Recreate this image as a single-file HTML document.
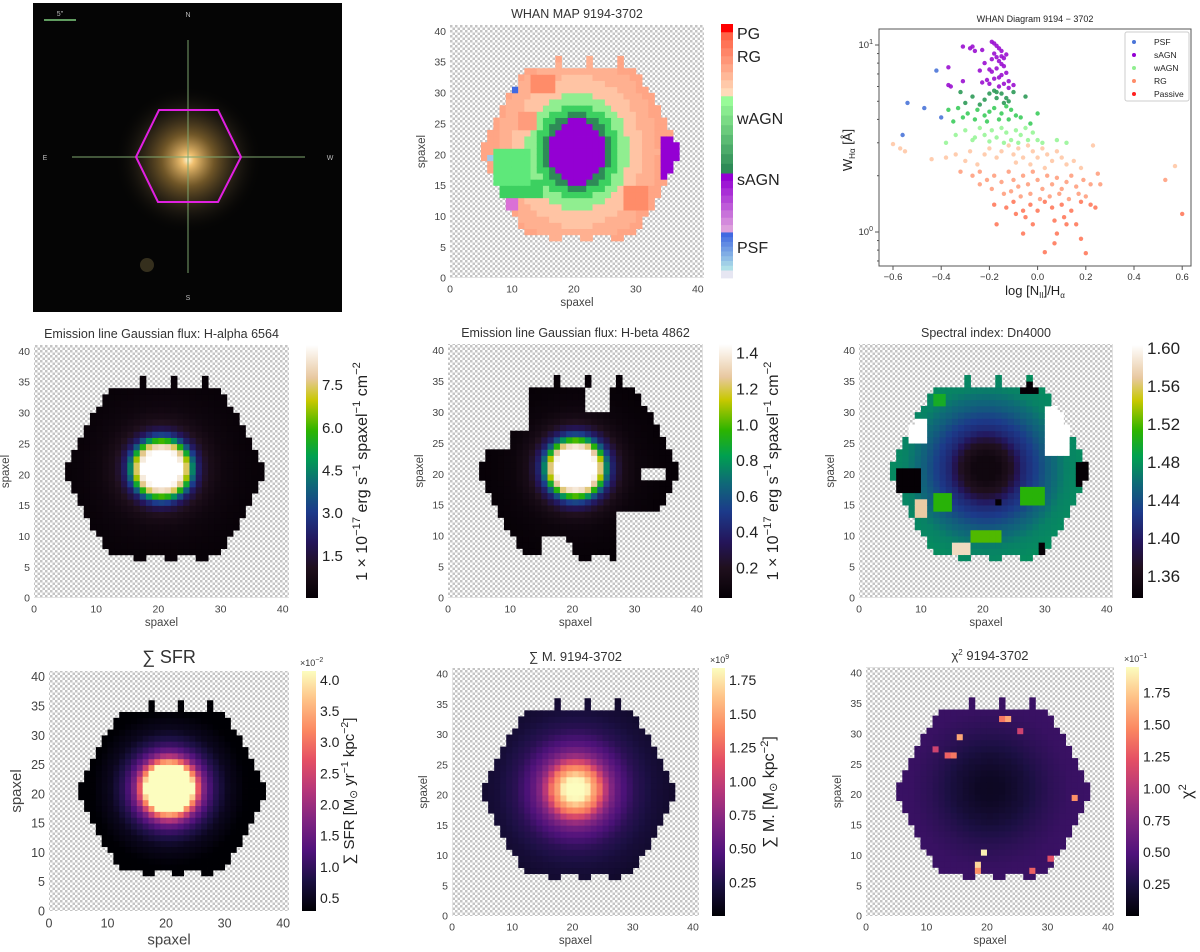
<!DOCTYPE html>
<html><head><meta charset="utf-8"><style>
html,body{margin:0;padding:0;background:#fff;}
svg{display:block;font-family:"Liberation Sans","DejaVu Sans",sans-serif;}
</style></head><body>
<svg id="fig" width="1200" height="952" viewBox="0 0 1200 952" xmlns="http://www.w3.org/2000/svg">
<defs>
<pattern id="chk" width="5" height="5" patternUnits="userSpaceOnUse"><rect width="5" height="5" fill="#ffffff"/><rect width="2.5" height="2.5" fill="#c4c4c4"/><rect x="2.5" y="2.5" width="2.5" height="2.5" fill="#c4c4c4"/></pattern>
<radialGradient id="glow" cx="0.5" cy="0.5" r="0.5"><stop offset="0" stop-color="#fff4d0"/><stop offset="0.08" stop-color="#f0c070"/><stop offset="0.35" stop-color="#8a6a30" stop-opacity="0.8"/><stop offset="0.7" stop-color="#3a3020" stop-opacity="0.4"/><stop offset="1" stop-color="#000" stop-opacity="0"/></radialGradient>
</defs>
<g id="photo">
<rect x="33" y="3" width="309" height="309" fill="#050505"/>
<circle cx="188" cy="160" r="75" fill="url(#glow)"/>
<circle cx="147" cy="265" r="7" fill="#4a4228" opacity="0.7"/>
<line x1="72" y1="157" x2="305" y2="157" stroke="#7fa870" stroke-width="1.2" opacity="0.8"/>
<line x1="188" y1="40" x2="188" y2="273" stroke="#7fa870" stroke-width="1.2" opacity="0.8"/>
<polygon points="136,157 159,110 218,110 241,157 218,202 158,202" fill="none" stroke="#e020e0" stroke-width="2"/>
<line x1="44" y1="20" x2="76" y2="20" stroke="#7fcf7f" stroke-width="1.5"/>
<text x="60" y="16" font-size="7" fill="#bbb" text-anchor="middle">5"</text>
<text x="188" y="17" font-size="7" fill="#bbb" text-anchor="middle">N</text>
<text x="188" y="300" font-size="7" fill="#bbb" text-anchor="middle">S</text>
<text x="45" y="160" font-size="7" fill="#bbb" text-anchor="middle">E</text>
<text x="330" y="160" font-size="7" fill="#bbb" text-anchor="middle">W</text>
</g>
</svg>
<script>
// ---------- data ----------
const radii = [0,2,3,4,4.5,5,5.5,6,7,8,10,13,18];
const haProfile = [12,11,9,7.5,6,4.5,3.2,2.2,1.3,0.8,0.4,0.2,0.05];
const hbProfile = [2,1.8,1.5,1.25,1.0,0.75,0.55,0.4,0.25,0.15,0.08,0.05,0.03];
const dnProfile = [1.35,1.35,1.36,1.37,1.38,1.39,1.40,1.41,1.42,1.43,1.45,1.47,1.48];
const sfrProfile = [6,5.5,5,4.2,3.4,2.8,2.2,1.7,1.2,0.9,0.5,0.3,0.25];
const massProfile = [1.9,1.8,1.5,1.3,1.1,0.95,0.8,0.7,0.55,0.45,0.3,0.2,0.12];
const chiProfile = [0.12,0.13,0.15,0.17,0.18,0.2,0.2,0.22,0.25,0.28,0.33,0.38,0.4];
const dnOverrides = [[8,10,25,28,1.62],[30,33,23,30,1.62],[15,17,7,8,1.58],[9,10,13,15,1.57],[6,9,17,20,1.33],[35,36,18,21,1.33],[26,28,33,34,1.33],[22,22,15,15,1.33],[29,29,7,8,1.33],[12,14,14,16,1.51],[18,22,9,10,1.52],[26,29,15,17,1.51],[12,13,31,32,1.5]];
const chiHot = [[19,10,1.9],[18,8,1.8],[18,7,1.5],[15,29,1.6],[13,26,1.3],[14,26,1.4],[22,32,1.4],[23,32,1.6],[34,19,1.5],[27,7,1.3],[30,9,1.2],[29,6,1.2],[11,27,1.1],[16,34,1.0],[25,30,1.1]];
const hbHoles = [[22,25,30,33],[31,34,19,20],[5,9,24,35],[10,12,27,33],[27,37,6,13],[15,18,6,9],[19,19,6,8]];
const whanOverrides = [[7,12,15,20,'#5ee87a'],[8,14,13,15,'#3cd060'],[34,36,16,22,'#9400d3'],[9,10,11,13,'#da70d6'],[10,10,30,30,'#4169e1'],[6,7,19,19,'#a0c8e8'],[13,16,30,32,'#ff8c69'],[28,31,11,14,'#ff8c69'],[11,13,24,26,'#ff9c7c']];
const xTicks = [0,10,20,30,40];
const yTicks = [0,5,10,15,20,25,30,35,40];

const cmEarth = [[0,'#050005'],[0.12,'#20101e'],[0.22,'#24155a'],[0.34,'#1c3a8a'],[0.45,'#0f6878'],[0.56,'#00a050'],[0.66,'#2cb400'],[0.78,'#c8c800'],[0.87,'#e8c8a0'],[1,'#ffffff']];
const cmMagma = [[0,'#000004'],[0.13,'#1c1044'],[0.25,'#4f127b'],[0.38,'#812581'],[0.5,'#b5367a'],[0.63,'#e55064'],[0.75,'#fb8761'],[0.88,'#fec287'],[1,'#fcfdbf']];

// scatter data: [logN2Ha, W_Ha]
const psfPts = [[-0.54,4.9],[-0.47,4.6],[-0.56,3.3],[-0.40,4.1],[-0.42,7.3]];
const sagnPts = [[-0.31,9.8],[-0.28,9.6],[-0.27,9.8],[-0.26,9.3],[-0.23,9.4],[-0.19,10.4],[-0.18,10.2],[-0.17,9.9],[-0.16,9.6],[-0.15,9.3],[-0.18,9.0],[-0.17,8.6],[-0.15,8.7],[-0.14,8.5],[-0.16,8.2],[-0.15,7.9],[-0.14,7.7],[-0.17,7.5],[-0.19,7.2],[-0.20,7.4],[-0.13,7.1],[-0.15,6.9],[-0.16,6.7],[-0.18,6.6],[-0.21,6.5],[-0.12,6.4],[-0.14,6.2],[-0.16,6.0],[-0.20,6.2],[-0.23,6.3],[-0.12,5.9],[-0.10,6.1],[-0.24,7.3],[-0.31,6.4],[-0.37,7.6],[-0.37,6.1],[-0.36,6.0],[-0.22,8.0],[-0.19,8.4],[-0.13,8.9]];
const wagnDarkPts = [[-0.32,5.6],[-0.27,5.3],[-0.22,5.1],[-0.2,5.5],[-0.18,5.7],[-0.17,5.6],[-0.15,5.5],[-0.13,5.2],[-0.12,5.0],[-0.14,4.9],[-0.05,5.3],[-0.1,5.6],[-0.17,5.2],[-0.24,4.8],[-0.3,4.9]];
const wagnMidPts = [[-0.37,4.5],[-0.33,4.6],[-0.29,4.3],[-0.25,4.5],[-0.22,4.2],[-0.2,4.4],[-0.18,4.6],[-0.15,4.3],[-0.13,4.7],[-0.11,4.5],[-0.09,4.2],[-0.12,4.0],[-0.16,4.0],[-0.21,3.9],[-0.26,4.0],[-0.31,4.1],[-0.35,3.9],[-0.07,4.1],[0.0,4.3],[-0.03,3.8]];
const wagnLightPts = [[-0.38,3.0],[-0.34,3.3],[-0.3,3.5],[-0.27,3.1],[-0.24,3.6],[-0.22,3.3],[-0.19,3.5],[-0.17,3.2],[-0.15,3.6],[-0.13,3.4],[-0.11,3.1],[-0.09,3.5],[-0.07,3.3],[-0.05,3.6],[-0.04,3.1],[-0.02,3.4],[0.0,3.1],[0.02,3.0],[0.08,3.1],[0.12,3.0],[-0.08,3.0],[-0.14,3.0],[-0.2,3.05],[-0.26,3.2]];
const rgPeachPts = [[-0.6,2.95],[-0.57,2.8],[-0.55,2.7],[-0.44,2.45],[-0.38,2.5],[-0.34,2.6],[-0.3,2.4],[-0.28,2.7],[-0.25,2.3],[-0.22,2.6],[-0.2,2.8],[-0.17,2.5],[-0.15,2.7],[-0.12,2.9],[-0.1,2.6],[-0.08,2.8],[-0.06,2.5],[-0.04,2.9],[-0.02,2.7],[0.0,2.5],[0.02,2.8],[0.04,2.6],[0.06,2.4],[0.08,2.7],[0.1,2.5],[0.12,2.3],[0.15,2.4],[0.18,2.2],[0.23,2.9],[0.57,2.25],[-0.09,2.35],[-0.03,2.3],[0.03,2.2]];
const rgSalmonPts = [[-0.32,2.1],[-0.27,2.0],[-0.24,2.1],[-0.21,1.9],[-0.18,2.0],[-0.15,1.85],[-0.12,2.1],[-0.1,1.9],[-0.08,1.75],[-0.06,2.0],[-0.04,1.8],[-0.02,2.1],[0.0,1.9],[0.02,1.7],[0.04,2.0],[0.06,1.8],[0.08,1.95],[0.1,1.7],[0.12,1.85],[0.14,2.0],[0.16,1.75],[0.19,1.9],[0.22,1.8],[0.25,2.05],[0.26,1.8],[0.53,1.9],[-0.24,1.8],[-0.19,1.7],[-0.14,1.6],[-0.11,1.65],[-0.07,1.55],[-0.03,1.6],[0.01,1.5],[0.05,1.55],[0.09,1.6],[0.13,1.5],[0.17,1.6],[0.2,1.55]];
const rgRedPts = [[-0.18,1.4],[-0.13,1.35],[-0.1,1.45],[-0.06,1.3],[-0.03,1.4],[0.0,1.3],[0.03,1.45],[0.06,1.35],[0.1,1.4],[0.14,1.3],[0.18,1.45],[0.22,1.4],[0.24,1.35],[-0.05,1.2],[-0.02,1.1],[0.07,1.15],[0.12,1.1],[0.16,1.1],[-0.17,1.1],[0.08,0.98],[0.18,0.92],[0.03,0.78],[0.2,0.77],[-0.06,0.98],[0.6,1.25],[0.07,0.87],[0.11,1.2],[-0.09,1.25]];
const scatterXTicks = [-0.6,-0.4,-0.2,0.0,0.2,0.4,0.6];
const legendLabels = ['PSF','sAGN','wAGN','RG','Passive'];
const legendColors = ['#4a74d8','#9400d3','#90ee90','#ff8c69','#ff2020'];

// ---------- helpers ----------
const NS='http://www.w3.org/2000/svg';
const fig=document.getElementById('fig');
function mk(tag,attrs,parent){const e=document.createElementNS(NS,tag);for(const k in attrs)e.setAttribute(k,attrs[k]);(parent||fig).appendChild(e);return e;}
function hex2rgb(h){return [parseInt(h.substr(1,2),16),parseInt(h.substr(3,2),16),parseInt(h.substr(5,2),16)];}
function cmap(stops,t){t=Math.max(0,Math.min(1,t));for(let k=1;k<stops.length;k++){if(t<=stops[k][0]){const a=stops[k-1],b=stops[k];const f=(t-a[0])/(b[0]-a[0]);const ca=hex2rgb(a[1]),cb=hex2rgb(b[1]);return 'rgb('+ca.map((v,i)=>Math.round(v+(cb[i]-v)*f)).join(',')+')';}}return stops[stops.length-1][1];}
function prof(vals,r){if(r>=radii[radii.length-1])return vals[vals.length-1];for(let k=1;k<radii.length;k++){if(r<=radii[k]){const f=(r-radii[k-1])/(radii[k]-radii[k-1]);return vals[k-1]+(vals[k]-vals[k-1])*f;}}}
function inHex(i,j){
  if((j===34||j===35)&&(i===17||i===22||i===27))return true;
  if(j===6&&(i===16||i===17||i===21||i===22||i===26||i===27))return true;
  const dx=Math.abs(i+0.5-21),dy=Math.abs(j+0.5-20.5);
  return dy<=13.5&&dx<=16.2-7*dy/13.5;
}
function inRect(i,j,r){return i>=r[0]&&i<=r[1]&&j>=r[2]&&j<=r[3];}
function rad(i,j){return Math.hypot(i+0.5-20.5,j+0.5-21);}
let gradId=0;

function axesFrame(name,ax){
  const [x0,y0,x1,y1]=ax;const g=mk('g',{});
  
  
  mk('rect',{x:x0,y:y0,width:x1-x0,height:y1-y0,fill:'url(#chk)'},g);
  return g;
}
function mapTicks(g,ax,o){
  const [x0,y0,x1,y1]=ax;const s=(x1-x0)/41;const sy=(y1-y0)/41;
  const fs=o.tickFs||10.5;
  xTicks.forEach(v=>{const t=mk('text',{x:x0+v*s,y:y1+fs+4,'font-size':fs,fill:'#444','text-anchor':'middle'},g);t.textContent=v;
    });
  yTicks.forEach(v=>{const t=mk('text',{x:x0-4,y:y1-v*sy+fs*0.35,'font-size':fs,fill:'#444','text-anchor':'end'},g);t.textContent=v;
    });
  const lf=o.labFs||11.5;
  const xl=mk('text',{x:(x0+x1)/2,y:y1+fs+6+lf,'font-size':lf,fill:'#444','text-anchor':'middle'},g);xl.textContent='spaxel';
  
  const yx=x0-fs*1.6-8;const yl=mk('text',{x:yx,y:(y0+y1)/2,'font-size':lf,fill:'#444','text-anchor':'middle',transform:'rotate(-90 '+yx+' '+(y0+y1)/2+')'},g);yl.textContent='spaxel';
  
  const tt=mk('text',{x:(x0+x1)/2,y:y0-(o.titleGap||7),'font-size':o.titleFs||12.5,fill:'#333','text-anchor':'middle'},g);tt.innerHTML=o.title;
  
}
function drawMap(name,ax,valFn,colFn){
  const g=axesFrame(name,ax);const [x0,y0,x1,y1]=ax;const s=(x1-x0)/41,sy=(y1-y0)/41;
  for(let i=0;i<41;i++)for(let j=0;j<41;j++){
    const v=valFn(i,j);if(v===null)continue;
    const r=mk('rect',{x:(x0+i*s).toFixed(2),y:(y1-(j+1)*sy).toFixed(2),width:(s+0.4).toFixed(2),height:(sy+0.4).toFixed(2),fill:colFn(v)},g);
    
    
  }
  return g;
}
function colorbar(name,cb,stops,vmin,vmax,ticks,fmt,fs,label,labFs,labX,expo){
  const [x0,y0,x1,y1]=cb;const g=mk('g',{});
  
  
  const id='cg'+(gradId++);const lg=mk('linearGradient',{id:id,x1:0,y1:1,x2:0,y2:0},fig.querySelector('defs'));
  stops.forEach(s=>mk('stop',{offset:s[0],'stop-color':s[1]},lg));
  mk('rect',{x:x0,y:y0,width:x1-x0,height:y1-y0,fill:'url(#'+id+')'},g);
  ticks.forEach(v=>{const y=y1-(v-vmin)/(vmax-vmin)*(y1-y0);const t=mk('text',{x:x1+4,y:y+fs*0.36,'font-size':fs,fill:'#222'},g);t.textContent=fmt(v);
    });
  if(expo){const e=mk('text',{x:x0-2,y:y0-5,'font-size':9,fill:'#333'},g);e.innerHTML=expo;}
  if(label){const cy=(y0+y1)/2;const t=mk('text',{x:labX,y:cy,'font-size':labFs,fill:'#222','text-anchor':'middle',transform:'rotate(-90 '+labX+' '+cy+')'},g);t.innerHTML=label;
    }
}
const fluxLabel='1 × 10'+'<tspan dy="-7" font-size="70%">−17</tspan><tspan dy="7"> erg s</tspan><tspan dy="-7" font-size="70%">−1</tspan><tspan dy="7"> spaxel</tspan><tspan dy="-7" font-size="70%">−1</tspan><tspan dy="7"> cm</tspan><tspan dy="-7" font-size="70%">−2</tspan>';

// ---------- WHAN map ----------
(function(){
  const ax=[450,25,704,278];
  const g=drawMap('whan-map',ax,(i,j)=>{
    if(!inHex(i,j))return null;
    for(const o of whanOverrides)if(inRect(i,j,o))return o[4];
    const r=Math.hypot(i+0.5-20.5,(j+0.5-20.5)*0.85);
    if(r<=4.4)return '#9400d3';if(r<=5.3)return '#2e8b57';if(r<=6.6)return '#3cd060';if(r<=8.2)return '#90ee90';
    if(r<=10.5)return '#ffc4a4';if(r<=13)return '#ffb090';return '#ffa585';
  },c=>c);
  mapTicks(g,ax,{title:'WHAN MAP 9194-3702'});
  const cb=[721,24,733,278];
  const cg=mk('g',{});
  const H=cb[3]-cb[1];
  const bands=[[0,0.031,'#e6e6f2','#e6e6f2'],[0.031,0.181,'#b0e0e8','#4169e1'],[0.181,0.413,'#dda0dd','#9400d3'],[0.413,0.717,'#2e8b57','#98fb98'],[0.717,0.969,'#ffdab9','#ff6347'],[0.969,1,'#ff0000','#ff0000']];
  bands.forEach(b=>{const n=8;for(let k=0;k<n;k++){const t0=b[0]+(b[1]-b[0])*k/n,t1=b[0]+(b[1]-b[0])*(k+1)/n;
    const f=k/(n-1);const ca=hex2rgb(b[2]),cc=hex2rgb(b[3]);const col='rgb('+ca.map((v,i)=>Math.round(v+(cc[i]-v)*f)).join(',')+')';
    mk('rect',{x:cb[0],y:(cb[3]-t1*H).toFixed(2),width:cb[2]-cb[0],height:((t1-t0)*H+0.4).toFixed(2),fill:col},cg);}});
  [['PG',33],['RG',56],['wAGN',118],['sAGN',179],['PSF',247]].forEach(l=>{const t=mk('text',{x:737,y:l[1]+6,'font-size':16,fill:'#222'},cg);t.textContent=l[0];
    });
})();

// ---------- WHAN scatter ----------
(function(){
  const g=mk('g',{});
  const X=v=>893+(v+0.6)*241, Y=w=>45+(1-Math.log10(w))*187;
  const ax=[879,29,1191,266];
  mk('rect',{x:ax[0],y:ax[1],width:ax[2]-ax[0],height:ax[3]-ax[1],fill:'#fff',stroke:'#555','stroke-width':1},g);
  scatterXTicks.forEach(v=>{mk('line',{x1:X(v),y1:ax[3],x2:X(v),y2:ax[3]+4,stroke:'#555'},g);
    const t=mk('text',{x:X(v),y:ax[3]+14,'font-size':9.5,fill:'#333','text-anchor':'middle'},g);t.textContent=(v<0?'−':'')+Math.abs(v).toFixed(1);
    });
  [[10,'10<tspan dy="-4" font-size="7">1</tspan>'],[1,'10<tspan dy="-4" font-size="7">0</tspan>']].forEach(d=>{mk('line',{x1:ax[0]-4,y1:Y(d[0]),x2:ax[0],y2:Y(d[0]),stroke:'#555'},g);
    const t=mk('text',{x:ax[0]-6,y:Y(d[0])+3,'font-size':9.5,fill:'#333','text-anchor':'end'},g);t.innerHTML=d[1];
    });
  [0.7,0.8,0.9,2,3,4,5,6,7,8,9].forEach(w=>mk('line',{x1:ax[0]-2,y1:Y(w),x2:ax[0],y2:Y(w),stroke:'#555'},g));
  const groups=[[rgRedPts,'#ff7a5c'],[rgSalmonPts,'#ffa080'],[rgPeachPts,'#ffc8a6'],[wagnLightPts,'#98f598'],[wagnMidPts,'#3ccc5c'],[wagnDarkPts,'#2e9a58'],[sagnPts,'#9a10d0'],[psfPts,'#4a74d8']];
  groups.forEach(gr=>gr[0].forEach(p=>{const c=mk('circle',{cx:X(p[0]).toFixed(1),cy:Y(p[1]).toFixed(1),r:2.2,fill:gr[1],opacity:0.9},g);
    }));
  const tt=mk('text',{x:1035,y:22,'font-size':9,fill:'#222','text-anchor':'middle'},g);tt.textContent='WHAN Diagram 9194 − 3702';
  
  const xl=mk('text',{x:1035,y:295,'font-size':13,fill:'#222','text-anchor':'middle'},g);xl.innerHTML='log [N<tspan dy="3" font-size="8">II</tspan><tspan dy="-3">]/H</tspan><tspan dy="3" font-size="8">α</tspan>';
  
  const yl=mk('text',{x:852,y:150,'font-size':13,fill:'#222','text-anchor':'middle',transform:'rotate(-90 852 150)'},g);yl.innerHTML='W<tspan dy="3" font-size="8">Hα</tspan><tspan dy="-3"> [Å]</tspan>';
  
  const lg=mk('g',{},g);
  mk('rect',{x:1125,y:32,width:64,height:69,fill:'#fff',stroke:'#ccc',rx:2},lg);
  legendLabels.forEach((l,k)=>{const y=42+k*13;mk('circle',{cx:1134,cy:y,r:2,fill:legendColors[k]},lg);
    const t=mk('text',{x:1154,y:y+3,'font-size':8.5,fill:'#222'},lg);t.textContent=l;
    });
})();

// ---------- Row 2 ----------
(function(){
  let ax=[34,345,289,598];
  let g=drawMap('halpha-map',ax,(i,j)=>inHex(i,j)?prof(haProfile,rad(i,j)):null,v=>cmap(cmEarth,v/8.9));
  mapTicks(g,ax,{title:'Emission line Gaussian flux: H-alpha 6564'});
  colorbar('halpha-colorbar',[306,345,318,598],cmEarth,0,8.9,[1.5,3.0,4.5,6.0,7.5],v=>v.toFixed(1),15,fluxLabel,16,367);

  ax=[448,344,703,598];
  g=drawMap('hbeta-map',ax,(i,j)=>{if(!inHex(i,j))return null;for(const h of hbHoles)if(inRect(i,j,h))return null;return prof(hbProfile,rad(i,j));},v=>cmap(cmEarth,(v-0.03)/1.42));
  mapTicks(g,ax,{title:'Emission line Gaussian flux: H-beta 4862'});
  colorbar('hbeta-colorbar',[719,344,732,598],cmEarth,0.03,1.45,[0.2,0.4,0.6,0.8,1.0,1.2,1.4],v=>v.toFixed(1),16,fluxLabel,16,778);

  ax=[859,344,1113,598];
  g=drawMap('dn4000-map',ax,(i,j)=>{if(!inHex(i,j))return null;for(const o of dnOverrides)if(inRect(i,j,o))return o[4];return prof(dnProfile,rad(i,j));},v=>cmap(cmEarth,(v-1.337)/0.266));
  mapTicks(g,ax,{title:'Spectral index: Dn4000'});
  colorbar('dn4000-colorbar',[1132,345,1143,598],cmEarth,1.337,1.603,[1.36,1.40,1.44,1.48,1.52,1.56,1.60],v=>v.toFixed(2),17,null);
})();

// ---------- Row 3 ----------
(function(){
  let ax=[49,671,289,911];
  let g=drawMap('sfr-map',ax,(i,j)=>inHex(i,j)?prof(sfrProfile,rad(i,j)):null,v=>cmap(cmMagma,(v-0.29)/3.85));
  mapTicks(g,ax,{title:'∑ SFR',titleFs:18,tickFs:12.5,labFs:15,titleGap:8});
  colorbar('sfr-colorbar',[302,671,316,911],cmMagma,0.29,4.14,[0.5,1.0,1.5,2.0,2.5,3.0,3.5,4.0],v=>v.toFixed(1),14,
    '∑ SFR [M<tspan font-size="70%" dy="3">⊙</tspan><tspan dy="-3"> yr</tspan><tspan dy="-6" font-size="70%">−1</tspan><tspan dy="6"> kpc</tspan><tspan dy="-6" font-size="70%">−2</tspan><tspan dy="6">]</tspan>',15,354,'×10<tspan dy="-4" font-size="7">−2</tspan>');

  ax=[452,668,699,916];
  g=drawMap('stellar-mass-map',ax,(i,j)=>inHex(i,j)?prof(massProfile,rad(i,j)):null,v=>cmap(cmMagma,v/1.84));
  mapTicks(g,ax,{title:'∑ M. 9194-3702',titleFs:13});
  colorbar('stellar-mass-colorbar',[712,668,725,916],cmMagma,0,1.84,[0.25,0.5,0.75,1.0,1.25,1.5,1.75],v=>v.toFixed(2),14,
    '∑ M. [M<tspan font-size="70%" dy="3">⊙</tspan><tspan dy="-3"> kpc</tspan><tspan dy="-6" font-size="70%">−2</tspan><tspan dy="6">]</tspan>',16,774,'×10<tspan dy="-4" font-size="7">9</tspan>');

  ax=[866,667,1114,916];
  g=drawMap('chi2-map',ax,(i,j)=>{if(!inHex(i,j))return null;for(const h of chiHot)if(h[0]===i&&h[1]===j)return h[2];return prof(chiProfile,rad(i,j));},v=>cmap(cmMagma,v/1.95));
  mapTicks(g,ax,{title:'χ<tspan dy="-5" font-size="8">2</tspan><tspan dy="5"> 9194-3702</tspan>',titleFs:13});
  colorbar('chi2-colorbar',[1126,667,1139,916],cmMagma,0,1.95,[0.25,0.5,0.75,1.0,1.25,1.5,1.75],v=>v.toFixed(2),14,
    'χ<tspan dy="-6" font-size="70%">2</tspan>',16,1192,'×10<tspan dy="-4" font-size="7">−1</tspan>');
})();
</script>
</body></html>
